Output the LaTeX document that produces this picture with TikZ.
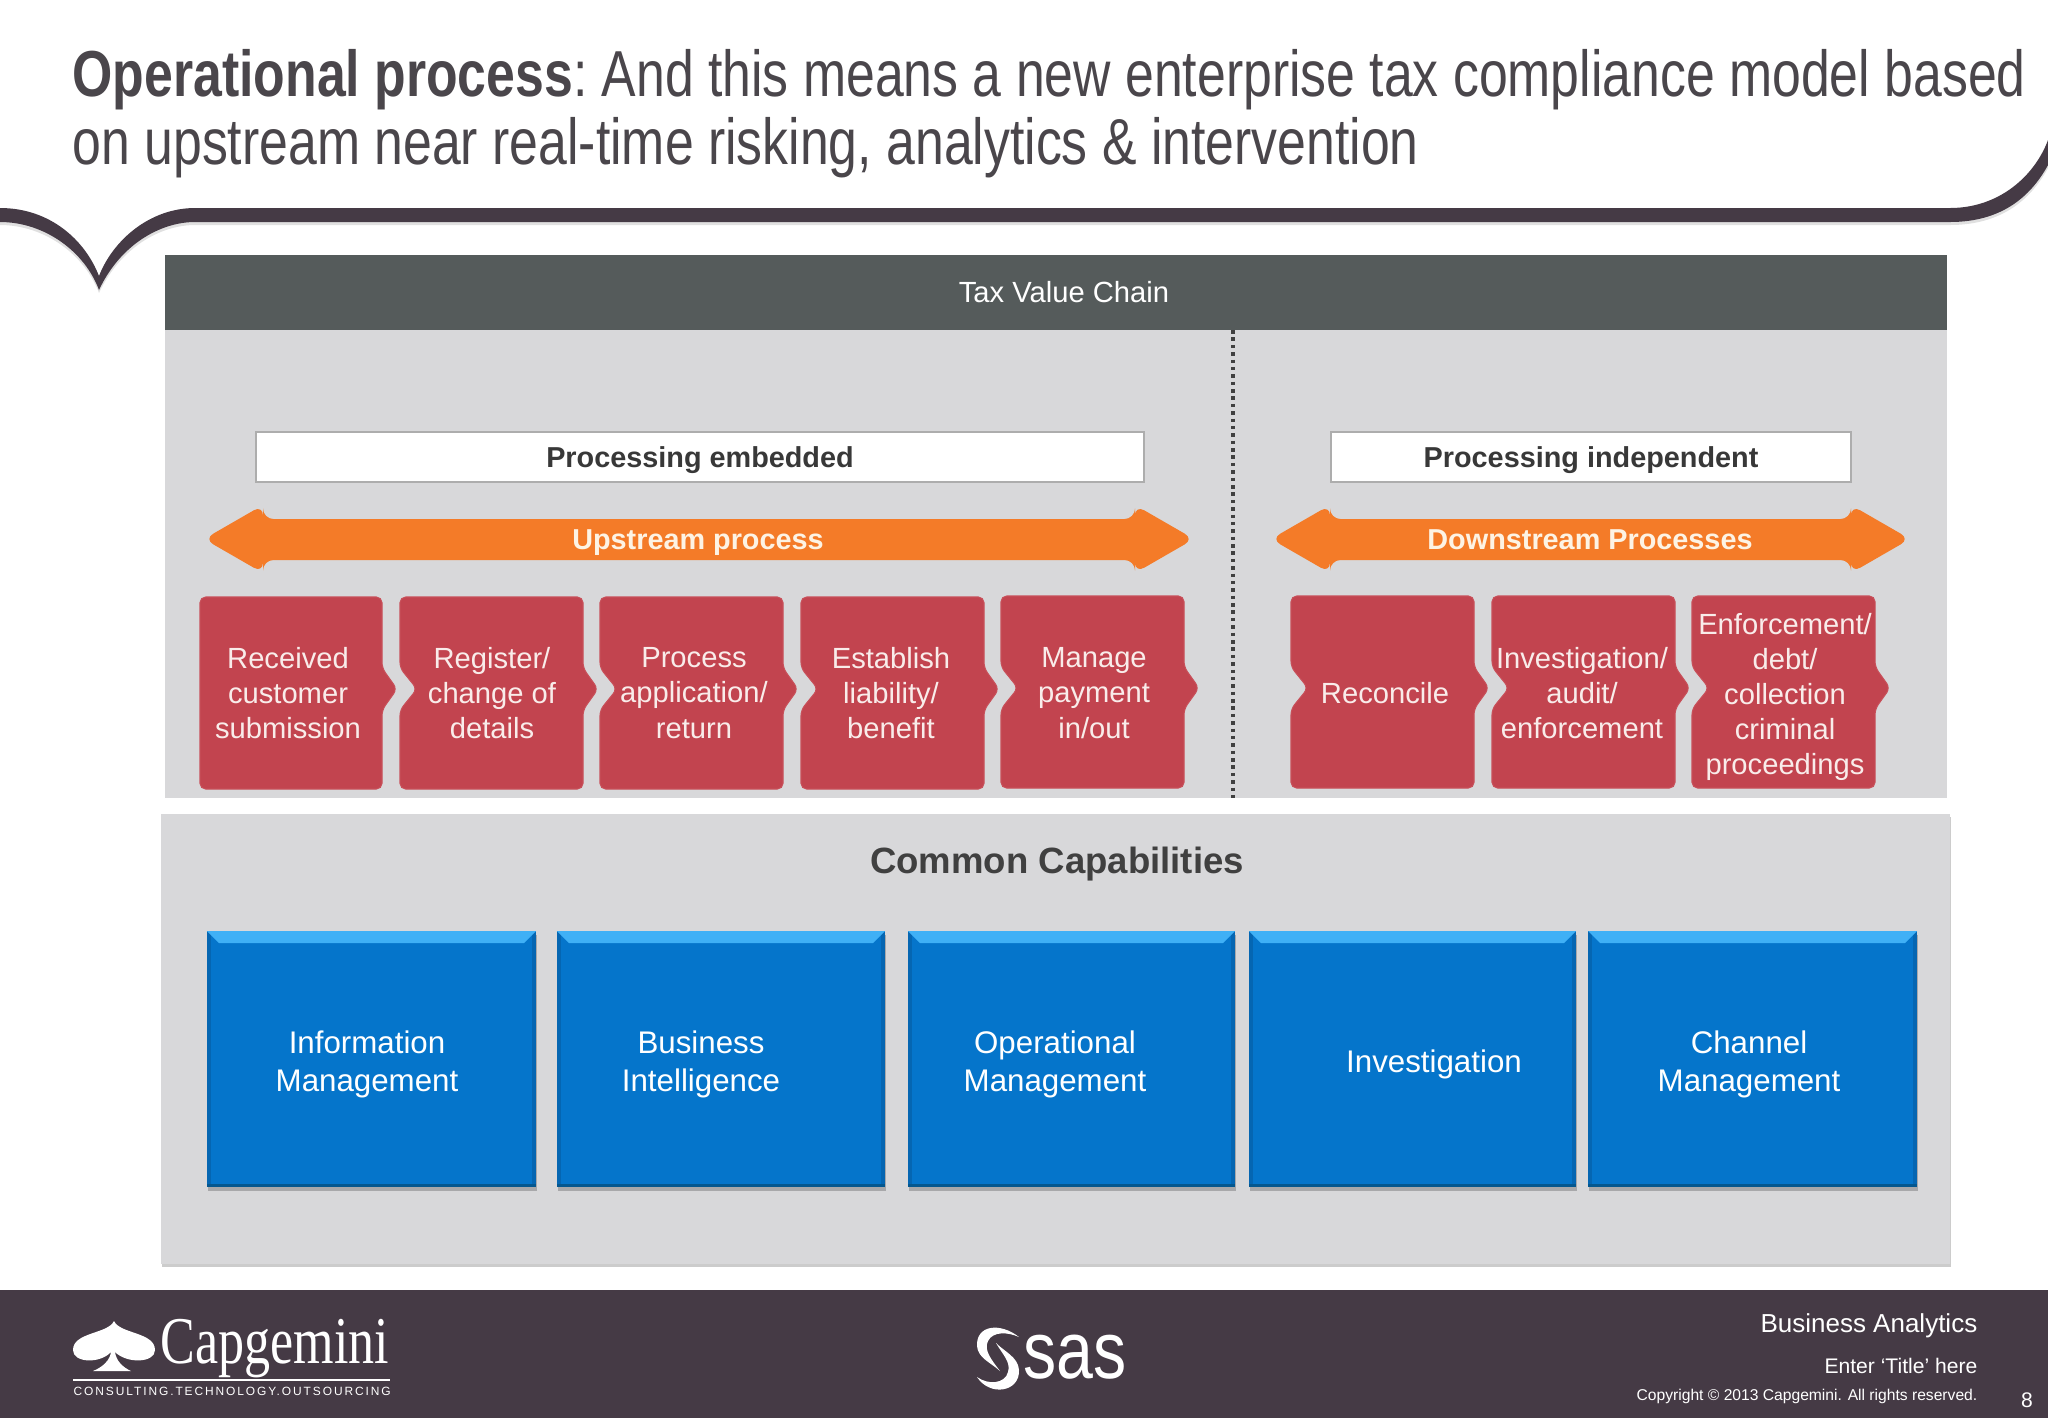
\documentclass[tikz,border=0pt]{standalone}
\usepackage{fontspec}
\setmainfont{Liberation Sans}
\newfontfamily\logoserif{Liberation Serif}
\newfontfamily\logospaced[LetterSpace=16]{Liberation Sans}
\usetikzlibrary{positioning,shadows}

\definecolor{plumdark}{HTML}{453A45}
\definecolor{titlegrey}{HTML}{4A464B}
\definecolor{headgrey}{HTML}{555B5B}
\definecolor{panelgrey}{HTML}{D8D8DA}
\definecolor{stepred}{HTML}{C2444F}
\definecolor{stepedge}{HTML}{C84F59}
\definecolor{steptext}{HTML}{F9ECEA}
\definecolor{flow}{HTML}{F47B28}
\definecolor{flowtext}{HTML}{FDF3E4}
\definecolor{capblue}{HTML}{0575CB}
\definecolor{capblueup}{HTML}{3FB0F6}
\definecolor{capblueside}{HTML}{0566B2}
\definecolor{capbluedark}{HTML}{04578F}

% notched process box: left x, top y
\newcommand{\stepshape}[2]{
  \filldraw[stepfill, rounded corners=1.6pt] (#1,#2) -- ++(183,0) -- ++(0,71) -- ++(15,21) -- ++(-15,21) -- ++(0,79) -- ++(-183,0) -- ++(0,-79) -- ++(17,-21) -- ++(-17,-21) -- cycle;
}
% double arrow: left tip x, right tip x
\newcommand{\flowshape}[2]{
  \fill[flow, rounded corners=3pt] (#1-4,539) -- (#1+55,505) -- (#1+55,519) -- (#2-55,519) -- (#2-55,505) -- (#2+4,539) -- (#2-55,573) -- (#2-55,560) -- (#1+55,560) -- (#1+55,573) -- cycle;
}

\begin{document}
\begin{tikzpicture}[
    x=0.1mm, y=-0.1mm,
    stepfill/.style={fill=stepred, draw=stepedge, line width=0.3pt},
    steplabel/.style={text=steptext, align=center, font=\fontsize{8.3}{10}\selectfont},
    flowlabel/.style={text=flowtext, font=\fontsize{8.2}{10}\selectfont\bfseries},
    whitebox/.style={draw=black!32, fill=white, line width=0.4pt, minimum height=5mm, inner sep=0pt, font=\fontsize{8.2}{10}\selectfont\bfseries, text=black!78},
    capbox/.style={fill=capblue, minimum height=25.6mm, inner sep=0pt, outer sep=0pt,
      drop shadow={shadow xshift=0.1mm, shadow yshift=-0.4mm, fill=black, opacity=0.22},
      path picture={
        \fill[capblueside] (path picture bounding box.north west) rectangle ([xshift=0.4mm]path picture bounding box.south west);
        \fill[capblueside] (path picture bounding box.north east) rectangle ([xshift=-0.4mm]path picture bounding box.south east);
        \fill[capbluedark] (path picture bounding box.south west) rectangle ([yshift=0.3mm]path picture bounding box.south east);
        \fill[capblueup] (path picture bounding box.north west) -- (path picture bounding box.north east) -- ([xshift=-1.2mm,yshift=-1.2mm]path picture bounding box.north east) -- ([xshift=1.2mm,yshift=-1.2mm]path picture bounding box.north west) -- cycle;
      }},
    caplabel/.style={text=white, align=center, font=\fontsize{8.9}{10.8}\selectfont},
    footnote/.style={text=white, anchor=east, inner sep=0pt}
]
\useasboundingbox (0,0) rectangle (2048,1418);

% speech bubble rule
\fill[black, opacity=0.12, yshift=-0.3mm] (0,208) .. controls (50,208) and (85,240) .. (99,276) .. controls (113,240) and (150,208) .. (195,208) -- (1950,208) .. controls (2000,208) and (2035,175) .. (2048,140) -- (2048,165) .. controls (2030,198) and (2000,222) .. (1950,222) -- (195,222) .. controls (160,222) and (120,245) .. (99,290) .. controls (85,252) and (45,222) .. (0,222) -- cycle;
\fill[plumdark] (0,208) .. controls (50,208) and (85,240) .. (99,276) .. controls (113,240) and (150,208) .. (195,208) -- (1950,208) .. controls (2000,208) and (2035,175) .. (2048,140) -- (2048,165) .. controls (2030,198) and (2000,222) .. (1950,222) -- (195,222) .. controls (160,222) and (120,245) .. (99,290) .. controls (85,252) and (45,222) .. (0,222) -- cycle;

\node[anchor=north west, inner sep=0pt, align=left, xscale=0.796, text=titlegrey, font=\fontsize{18.5}{19.3}\selectfont\frenchspacing] (title) at (72,49) {\textbf{Operational process}: And this means a new enterprise tax compliance model based\\on upstream near real-time risking, analytics \& intervention};

% tax value chain
\fill[panelgrey] (165,255) rectangle (1947,798);
\node[fill=headgrey, minimum width=178.2mm, minimum height=7.5mm, inner sep=0pt] (head) at (1056,292.5) {};
\node[text=white, font=\fontsize{8.3}{10}\selectfont] (chain) at (1064,292) {Tax Value Chain};
\coordinate (divtop) at (1233,330);
\coordinate (divbot) at (1233,798);
\draw[black!75, line width=1pt, dash pattern=on 1pt off 1.1pt] (divtop) -- (divbot);

\node[whitebox, minimum width=88.8mm] (embedded) at (700,457) {\raisebox{-3pt}[0pt][0pt]{Processing embedded}};
\node[whitebox, minimum width=52mm] (independent) at (1591,457) {\raisebox{-3pt}[0pt][0pt]{Processing independent}};

\flowshape{208}{1190}
\flowshape{1275}{1906}
\node[flowlabel] (upstream) at (698,543) {Upstream process};
\node[flowlabel] (downstream) at (1590,540) {Downstream Processes};

% process boxes
\filldraw[stepfill, rounded corners=1.6pt] (200,597) -- ++(182,0) -- ++(0,71) -- ++(15,21) -- ++(-15,21) -- ++(0,79) -- ++(-182,0) -- cycle;
\stepshape{400}{597}
\stepshape{600}{597}
\stepshape{801}{597}
\stepshape{1001}{596}
\stepshape{1291}{596}
\stepshape{1492}{596}
\stepshape{1692}{596}

\node[steplabel] (received) at (288,693) {Received\\customer\\submission};
\node[steplabel] (register) at (492,693) {Register/\\change of\\details};
\node[steplabel] (process) at (694,693) {Process\\application/\\return};
\node[steplabel] (establish) at (891,693) {Establish\\liability/\\benefit};
\node[steplabel] (manage) at (1094,693) {Manage\\payment\\in/out};
\node[steplabel] (reconcile) at (1385,693) {Reconcile};
\node[steplabel] (investigate) at (1582,693) {Investigation/\\audit/\\enforcement};
\node[steplabel] (enforce) at (1785,697) {Enforcement/\\debt/\\collection\\criminal\\proceedings};

% common capabilities
\node[fill=panelgrey, minimum width=178.9mm, minimum height=45mm, inner sep=0pt, drop shadow={shadow xshift=0.1mm, shadow yshift=-0.3mm, fill=black, opacity=0.2}] (common) at (1055.5,1039) {};
\node[text=black!75, font=\fontsize{10.4}{12}\selectfont\bfseries] (commontitle) at (1057,864) {Common Capabilities};

\foreach \name/\xc/\boxw in {info/371.5/32.9, busi/721/32.8, oper/1071.5/32.7, inve/1412.5/32.7, chan/1752.5/32.9}
  \node[capbox, minimum width=\boxw mm] (\name) at (\xc,1059) {};

\node[caplabel] (infolabel) at (367,1064) {Information\\Management};
\node[caplabel] (busilabel) at (701,1064) {Business\\Intelligence};
\node[caplabel] (operlabel) at (1055,1064) {Operational\\Management};
\node[caplabel] (invelabel) at (1434,1064) {Investigation};
\node[caplabel] (chanlabel) at (1749,1064) {Channel\\Management};

% footer
\fill[plumdark] (0,1290) rectangle (2048,1418);

\fill[white] (114,1321) .. controls (108,1334) and (73,1332) .. (73,1350) .. controls (73,1363) and (100,1364) .. (111,1352) .. controls (110,1360) and (103,1367) .. (93,1371) -- (131,1371) .. controls (122,1367) and (116,1360) .. (115,1352) .. controls (127,1364) and (155,1363) .. (155,1350) .. controls (155,1332) and (120,1334) .. (114,1321) -- cycle;
\node[anchor=base west, inner sep=0pt, xscale=0.78, text=white, font=\logoserif\fontsize{19}{19}\selectfont] (capgemini) at (160,1363) {Capgemini};
\fill[white] (73,1379) rectangle (390,1381);
\node[anchor=west, inner sep=0pt, text=white, font=\logospaced\fontsize{3.4}{4}\selectfont] (tagline) at (73,1391) {CONSULTING.TECHNOLOGY.OUTSOURCING};

\fill[white] (1019,1337) .. controls (1000,1322) and (976,1325) .. (977,1346) .. controls (978,1358) and (990,1362) .. (1000,1371) .. controls (990,1358) and (984,1350) .. (988,1341) .. controls (993,1331) and (1008,1332) .. (1019,1337) -- cycle;
\fill[white] (977,1377) .. controls (990,1397) and (1020,1392) .. (1019,1370) .. controls (1018,1357) and (1005,1352) .. (996,1343) .. controls (1003,1355) and (1011,1362) .. (1008,1372) .. controls (1005,1384) and (988,1385) .. (977,1377) -- cycle;
\node[anchor=base west, inner sep=0pt, xscale=0.82, text=white, font=\fontsize{23}{24}\selectfont] (sas) at (1023,1378) {sas};

\node[footnote, font=\fontsize{7.4}{9}\selectfont] (analytics) at (1978,1326) {Business Analytics};
\node[footnote, font=\fontsize{6}{8}\selectfont] (entertitle) at (1978,1366) {Enter ‘Title’ here};
\node[footnote, font=\fontsize{4.45}{6}\selectfont] (copyright) at (1978,1396) {Copyright © 2013 Capgemini. All rights reserved.};
\node[text=white, inner sep=0pt, font=\fontsize{6}{8}\selectfont] (pagenum) at (2027,1400) {8};
\end{tikzpicture}
\end{document}
